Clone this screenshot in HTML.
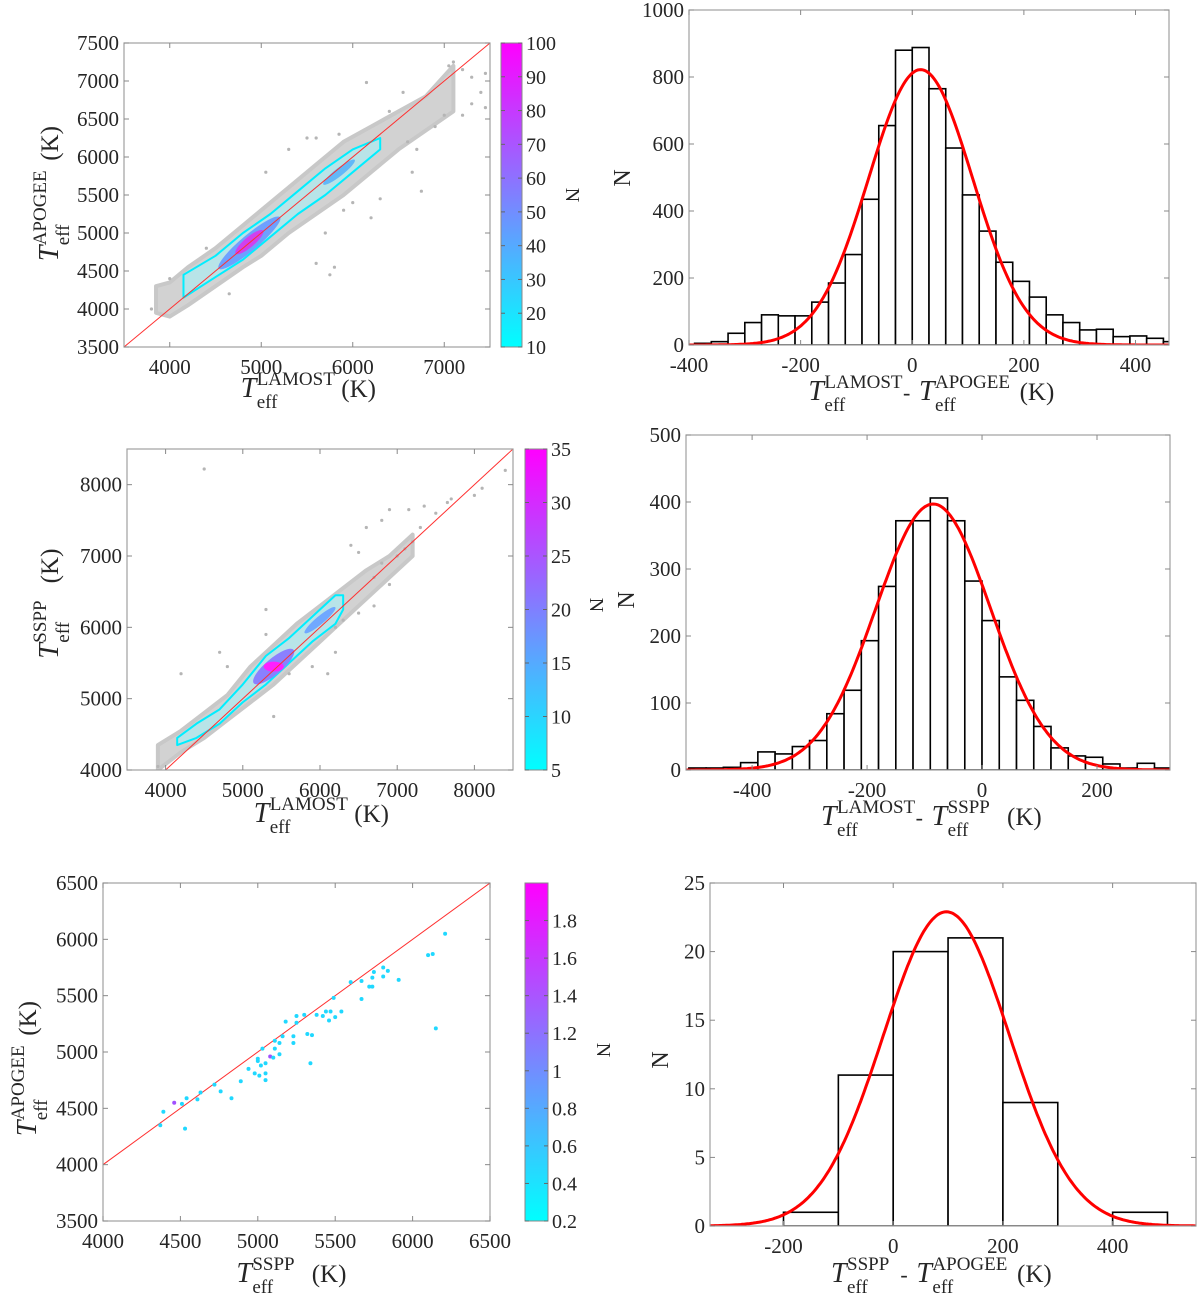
<!DOCTYPE html>
<html><head><meta charset="utf-8"><style>
html,body{margin:0;padding:0;background:#fff;}
svg{display:block;}
text{font-family:"Liberation Serif",serif;}
</style></head><body>
<svg id="fig" width="1200" height="1303" viewBox="0 0 1200 1303" xmlns="http://www.w3.org/2000/svg" font-family="Liberation Serif, serif">
<defs>
<linearGradient id="cool" x1="0" y1="1" x2="0" y2="0"><stop offset="0" stop-color="#00ffff"/><stop offset="1" stop-color="#ff00ff"/></linearGradient>
</defs>
</svg>
<script>
// ---------- Histogram data ----------
const h1BinStart = [-390,-360,-330,-300,-270,-240,-210,-180,-150,-120,-90,-60,-30,0,30,60,90,120,150,180,210,240,270,300,330,360,390,420,450];
const h1Counts   = [5,10,35,67,90,87,87,128,185,270,435,655,880,888,765,588,448,340,247,190,143,90,67,45,47,25,27,20,10];
const h1Fit = [15, 822, 93]; // mu, amplitude, sigma

const h2BinStart = [-510,-480,-450,-420,-390,-360,-330,-300,-270,-240,-210,-180,-150,-120,-90,-60,-30,0,30,60,90,120,150,180,210,240,270,300,330];
const h2Counts   = [3,3,4,11,27,24,35,44,84,119,193,274,372,372,406,372,282,223,139,104,65,33,21,19,9,3,10,3,2];
const h2Fit = [-85, 397, 100];

const h3BinStart = [-200,-100,0,100,200,300,400];
const h3Counts   = [1,11,20,21,9,0,1];
const h3Fit = [97, 22.9, 115];

// ---------- Scatter cloud envelopes ----------
const s1BandX  = [3850,4000,4200,4500,4800,5000,5300,5600,5900,6200,6500,6800,7100];
const s1BandLo = [3950,3900,4050,4300,4550,4700,5000,5250,5500,5800,6100,6350,6600];
const s1BandHi = [4300,4350,4550,4800,5100,5300,5600,5900,6200,6400,6600,6800,7200];
const s1ContX  = [4150,4500,4800,5100,5400,5700,6000,6300];
const s1ContLo = [4150,4420,4650,4950,5250,5500,5800,6100];
const s1ContHi = [4450,4700,5000,5250,5550,5850,6100,6250];
const s1OutX = [6150,7050,7100,7200,7300,7450,7400,7300,7200,7450,7000,6900,6600,6550,6400,6700,6750,6650,6000,6200,6300,5800,5750,5600,5700,5900,5050,4650,4000,3800,4400,5500,5600,5850,5300];
const s1OutY = [6980,7200,7250,7150,7050,7100,6850,6700,6550,6650,6550,6400,6200,6850,6600,6100,5550,5800,5400,5200,5450,4550,4450,4600,5000,5300,5800,4200,4400,4000,4800,6250,6250,6300,6100];

const s2BandX  = [3900,4200,4500,4800,5100,5400,5700,6000,6300,6600,6900,7200];
const s2BandLo = [4000,4250,4450,4700,4950,5200,5500,5800,6100,6400,6700,7000];
const s2BandHi = [4350,4550,4800,5050,5450,5750,6050,6300,6550,6800,7000,7300];
const s2ContX  = [4150,4400,4700,5000,5300,5600,5900,6200,6300];
const s2ContLo = [4350,4450,4650,4950,5200,5500,5800,6050,6250];
const s2ContHi = [4450,4650,4850,5200,5600,5850,6150,6450,6450];
const s2OutX = [4500,4200,4700,4800,5300,5300,5400,5600,5900,6100,6200,6200,6300,6400,6500,6600,6800,6900,7150,7350,7500,7700,7650,8000,8100,8400,6700,6900,7000,7200,7300,6800,7100,6500,6700,3900];
const s2OutY = [8220,5350,5650,5450,6250,5900,4750,5350,5450,5350,6000,5650,6100,7150,7050,7400,7500,7650,7650,7700,7600,7800,7750,7850,7950,8200,6300,6600,7000,7200,7400,6900,7100,6200,6700,4050];

const s3X = [4370,4390,4460,4510,4540,4530,4610,4630,4720,4760,4830,4890,4940,4980,5000,5000,5010,5020,5030,5050,5050,5050,5080,5100,5110,5110,5140,5140,5160,5180,5230,5230,5250,5250,5300,5320,5340,5350,5380,5420,5440,5460,5470,5490,5500,5540,5600,5670,5670,5720,5740,5740,5750,5810,5810,5840,5910,6100,6130,6150,6210];
const s3Y = [4350,4470,4550,4540,4590,4320,4580,4640,4710,4650,4590,4740,4850,4810,4940,4920,4790,4880,5030,4900,4810,4750,4960,4950,5030,5100,5080,4980,5140,5270,5140,5080,5320,5260,5330,5160,4900,5150,5330,5320,5360,5280,5360,5480,5310,5360,5620,5630,5470,5580,5580,5660,5710,5750,5670,5720,5640,5860,5870,5210,6050];
const s3N = [1,1,2,1,1,1,1,1,1,1,1,1,1,1,1,1,1,1,1,1,1,1,2,1,1,1,1,1,1,1,1,1,1,1,1,1,1,1,1,1,1,1,1,1,1,1,1,1,1,1,1,1,1,1,1,1,1,1,1,1,1];

// ---------- Tick labels ----------
const s1XTicks=[4000,5000,6000,7000], s1YTicks=[3500,4000,4500,5000,5500,6000,6500,7000,7500];
const s2XTicks=[4000,5000,6000,7000,8000], s2YTicks=[4000,5000,6000,7000,8000];
const s3XTicks=[4000,4500,5000,5500,6000,6500], s3YTicks=[3500,4000,4500,5000,5500,6000,6500];
const h1XTicks=[-400,-200,0,200,400], h1YTicks=[0,200,400,600,800,1000];
const h2XTicks=[-400,-200,0,200], h2YTicks=[0,100,200,300,400,500];
const h3XTicks=[-200,0,200,400], h3YTicks=[0,5,10,15,20,25];
const cb1Ticks=[10,20,30,40,50,60,70,80,90,100];
const cb2Ticks=[5,10,15,20,25,30,35];
const cb3Ticks=[0.2,0.4,0.6,0.8,1,1.2,1.4,1.6,1.8];

const NS="http://www.w3.org/2000/svg";
const svg=document.getElementById('fig');
const FF='Liberation Serif, serif';
function mk(tag,attrs,parent){const e=document.createElementNS(NS,tag);for(const k in attrs)e.setAttribute(k,attrs[k]);if(tag==='text')e.setAttribute('font-family',FF);(parent||svg).appendChild(e);return e;}
function scale(d0,d1,r0,r1){return v=>r0+(v-d0)*(r1-r0)/(d1-d0);}
let clipId=0;

function axes(name,box,xd,yd,xt,yt){
  const g=mk('g',{});
  
  
  const sx=scale(xd[0],xd[1],box.x0,box.x1), sy=scale(yd[0],yd[1],box.y1,box.y0);
  const id='clip'+(clipId++);
  const cp=mk('clipPath',{id:id},g); mk('rect',{x:box.x0,y:box.y0,width:box.x1-box.x0,height:box.y1-box.y0},cp);
  const plot=mk('g',{'clip-path':'url(#'+id+')'},g);
  
  
  return {g,plot,sx,sy,box,xt,yt};
}
function frame(A){
  const {g,sx,sy,box,xt,yt}=A;
  mk('rect',{x:box.x0,y:box.y0,width:box.x1-box.x0,height:box.y1-box.y0,fill:'none',stroke:'#a0a0a0','stroke-width':1.2},g);
  const xg=mk('g',{},g);
  
  
  xt.forEach(v=>{const x=sx(v);
    mk('line',{x1:x,x2:x,y1:box.y1,y2:box.y1-5,stroke:'#888'},xg);
    mk('line',{x1:x,x2:x,y1:box.y0,y2:box.y0+5,stroke:'#888'},xg);
    const t=mk('text',{x:x,y:box.y1+27,'font-size':21,'text-anchor':'middle',fill:'#262626'},xg);t.textContent=String(v);});
  const yg=mk('g',{},g);
  
  
  yt.forEach(v=>{const y=sy(v);
    mk('line',{y1:y,y2:y,x1:box.x0,x2:box.x0+5,stroke:'#888'},yg);
    mk('line',{y1:y,y2:y,x1:box.x1,x2:box.x1-5,stroke:'#888'},yg);
    const t=mk('text',{x:box.x0-5,y:y+7,'font-size':21,'text-anchor':'end',fill:'#262626'},yg);t.textContent=String(v);});
}
function hist(A,starts,counts,w,fit){
  const {plot,sx,sy}=A;
  starts.forEach((s,i)=>{const r=mk('rect',{x:sx(s),y:sy(counts[i]),width:sx(s+w)-sx(s),height:sy(0)-sy(counts[i]),fill:'#fff',stroke:'#000','stroke-width':1.6},plot);
    
    });
  let d='';
  for(let i=0;i<=300;i++){const v=A.xd[0]+(A.xd[1]-A.xd[0])*i/300;const c=fit[1]*Math.exp(-Math.pow(v-fit[0],2)/(2*fit[2]*fit[2]));d+=(i?'L':'M')+sx(v).toFixed(1)+','+sy(c).toFixed(1);}
  const p=mk('path',{d:d,fill:'none',stroke:'#ff0000','stroke-width':3},plot);
  
  
}
function band(A,X,Lo,Hi,attrs,name){
  const {plot,sx,sy}=A;let d='';
  X.forEach((x,i)=>{d+=(i?'L':'M')+sx(x)+','+sy(Hi[i]);});
  for(let i=X.length-1;i>=0;i--)d+='L'+sx(X[i])+','+sy(Lo[i]);
  const p=mk('path',Object.assign({d:d+'Z','stroke-linejoin':'round'},attrs),plot);
  
  
  return p;
}
function dots(A,X,Y,fill,r,name){
  const g=mk('g',{},A.plot);
  
  
  X.forEach((x,i)=>mk('circle',{cx:A.sx(x),cy:A.sy(Y[i]),r:r,fill:fill},g));
}
function oneToOne(A,xd){
  const l=mk('line',{x1:A.sx(xd[0]),y1:A.sy(xd[0]),x2:A.sx(xd[1]),y2:A.sy(xd[1]),stroke:'#ff3030','stroke-width':1},A.plot);
  
  
}
function colorbar(cb,dom,ticks){
  const g=mk('g',{});
  
  
  mk('rect',{x:cb.x,y:cb.y0,width:cb.w,height:cb.y1-cb.y0,fill:'url(#cool)',stroke:'#888','stroke-width':1},g);
  const s=scale(dom[0],dom[1],cb.y1,cb.y0);
  ticks.forEach(v=>{const y=s(v);
    mk('line',{x1:cb.x+cb.w,x2:cb.x+cb.w-4,y1:y,y2:y,stroke:'#666'},g);
    mk('line',{x1:cb.x,x2:cb.x+4,y1:y,y2:y,stroke:'#666'},g);
    const t=mk('text',{x:cb.x+cb.w+4,y:y+7,'font-size':20,fill:'#262626'},g);t.textContent=String(v);});
  const t=mk('text',{x:0,y:0,'font-size':20,'text-anchor':'middle',fill:'#262626',transform:`translate(${cb.nx},${cb.ny}) rotate(90)`},g);t.textContent='N';
  
  
}
// Axis label "T_eff^A - T_eff^B (K)"
function tlabel(name,cx,cy,parts,suffix,rot){
  const g=mk('g',{transform:`translate(${cx},${cy})`+(rot?' rotate(-90)':'')});
  
  
  const cw=12.6;let w=0;parts.forEach((p,i)=>{w+=17+p.length*cw+(i<parts.length-1?18:0);});w+=40;
  let x=-w/2;
  parts.forEach((p,i)=>{
    const T=mk('text',{x:x,y:0,'font-size':28,'font-style':'italic',fill:'#262626'},g);T.textContent='T';
    const sp=mk('text',{x:x+16,y:-12,'font-size':19,fill:'#262626'},g);sp.textContent=p;
    const sb=mk('text',{x:x+16,y:11,'font-size':19,fill:'#262626'},g);sb.textContent='eff';
    x+=17+p.length*cw;
    if(i<parts.length-1){const m=mk('text',{x:x+2,y:0,'font-size':22,fill:'#262626'},g);m.textContent='-';x+=18;}
  });
  const s=mk('text',{x:x+8,y:0,'font-size':25,fill:'#262626'},g);s.textContent=suffix;
}
function nlabel(x,y){const t=mk('text',{x:0,y:0,'font-size':24,'text-anchor':'middle',fill:'#262626',transform:`translate(${x},${y}) rotate(-90)`});t.textContent='N';
  
  }

const cloudStyle={fill:'#d2d2d2',stroke:'#c8c8c8','stroke-width':4};
const contStyle={fill:'#b8e4e8',stroke:'#00eeff','stroke-width':2};

// ===== Panel 1 =====
let A=axes('scatter-lamost-apogee',{x0:124,x1:490,y0:43,y1:347},[3500,7500],[3500,7500],s1XTicks,s1YTicks);A.xd=[3500,7500];
band(A,s1BandX,s1BandLo,s1BandHi,cloudStyle,'gray-point-cloud');
dots(A,s1OutX,s1OutY,'#b5b5b5',1.6,'gray-outliers');
band(A,s1ContX,s1ContLo,s1ContHi,contStyle,'density-contour-10');
mk('ellipse',{cx:A.sx(4870),cy:A.sy(4870),rx:40,ry:8,fill:'#6ea0ff',transform:`rotate(-40 ${A.sx(4870)} ${A.sy(4870)})`},A.plot);
mk('ellipse',{cx:A.sx(4870),cy:A.sy(4880),rx:18,ry:5,fill:'#d040f0',transform:`rotate(-40 ${A.sx(4870)} ${A.sy(4880)})`},A.plot);
mk('ellipse',{cx:A.sx(5850),cy:A.sy(5800),rx:20,ry:4,fill:'#62b8f8',transform:`rotate(-38 ${A.sx(5850)} ${A.sy(5800)})`},A.plot);
oneToOne(A,[3500,7500]);
frame(A);
colorbar({x:501,w:21,y0:43,y1:347,nx:566,ny:195},[10,100],cb1Ticks);
tlabel('x-axis-title',307,397,['LAMOST'],'(K)',false);
tlabel('y-axis-title',58,195,['APOGEE'],'(K)',true);

// ===== Panel 2 =====
A=axes('hist-lamost-apogee',{x0:689,x1:1169,y0:10,y1:345},[-400,460],[0,1000],h1XTicks,h1YTicks);A.xd=[-400,460];
hist(A,h1BinStart,h1Counts,30,h1Fit);frame(A);
nlabel(630,178);
tlabel('x-axis-title',930,400,['LAMOST','APOGEE'],'(K)',false);

// ===== Panel 3 =====
A=axes('scatter-lamost-sspp',{x0:127,x1:513,y0:449,y1:770},[3500,8500],[4000,8500],s2XTicks,s2YTicks);A.xd=[3500,8500];
band(A,s2BandX,s2BandLo,s2BandHi,cloudStyle,'gray-point-cloud');
dots(A,s2OutX,s2OutY,'#b5b5b5',1.6,'gray-outliers');
band(A,s2ContX,s2ContLo,s2ContHi,contStyle,'density-contour-5');
mk('ellipse',{cx:A.sx(5400),cy:A.sy(5450),rx:26,ry:8,fill:'#8a80ff',transform:`rotate(-40 ${A.sx(5400)} ${A.sy(5450)})`},A.plot);
mk('ellipse',{cx:A.sx(5400),cy:A.sy(5450),rx:10,ry:5,fill:'#ff20ff'},A.plot);
mk('ellipse',{cx:A.sx(6000),cy:A.sy(6100),rx:20,ry:4,fill:'#70a8ff',transform:`rotate(-40 ${A.sx(6000)} ${A.sy(6100)})`},A.plot);
oneToOne(A,[4000,8500]);
frame(A);
colorbar({x:525,w:22,y0:449,y1:770,nx:590,ny:605},[5,35],cb2Ticks);
tlabel('x-axis-title',320,822,['LAMOST'],'(K)',false);
tlabel('y-axis-title',58,605,['SSPP'],'(K)',true);

// ===== Panel 4 =====
A=axes('hist-lamost-sspp',{x0:686,x1:1170,y0:435,y1:770},[-515,327],[0,500],h2XTicks,h2YTicks);A.xd=[-515,327];
hist(A,h2BinStart,h2Counts,30,h2Fit);frame(A);
nlabel(634,600);
tlabel('x-axis-title',930,825,['LAMOST','SSPP'],'(K)',false);

// ===== Panel 5 =====
A=axes('scatter-sspp-apogee',{x0:103,x1:490,y0:883,y1:1221},[4000,6500],[3500,6500],s3XTicks,s3YTicks);A.xd=[4000,6500];
oneToOne(A,[4000,6500]);
{const g=mk('g',{},A.plot);


s3X.forEach((x,i)=>mk('circle',{cx:A.sx(x),cy:A.sy(s3Y[i]),r:2,fill:s3N[i]>1?'#a050ff':'#20d8ff'},g));}
frame(A);
colorbar({x:525,w:23,y0:883,y1:1221,nx:597,ny:1050},[0.2,2.0],cb3Ticks);
tlabel('x-axis-title',290,1282,['SSPP'],'(K)',false);
tlabel('y-axis-title',36,1070,['APOGEE'],'(K)',true);

// ===== Panel 6 =====
A=axes('hist-sspp-apogee',{x0:710,x1:1196,y0:883,y1:1226},[-334,552],[0,25],h3XTicks,h3YTicks);A.xd=[-334,552];
hist(A,h3BinStart,h3Counts,100,h3Fit);frame(A);
nlabel(668,1060);
tlabel('x-axis-title',940,1282,['SSPP','APOGEE'],'(K)',false);
</script>
</body></html>
